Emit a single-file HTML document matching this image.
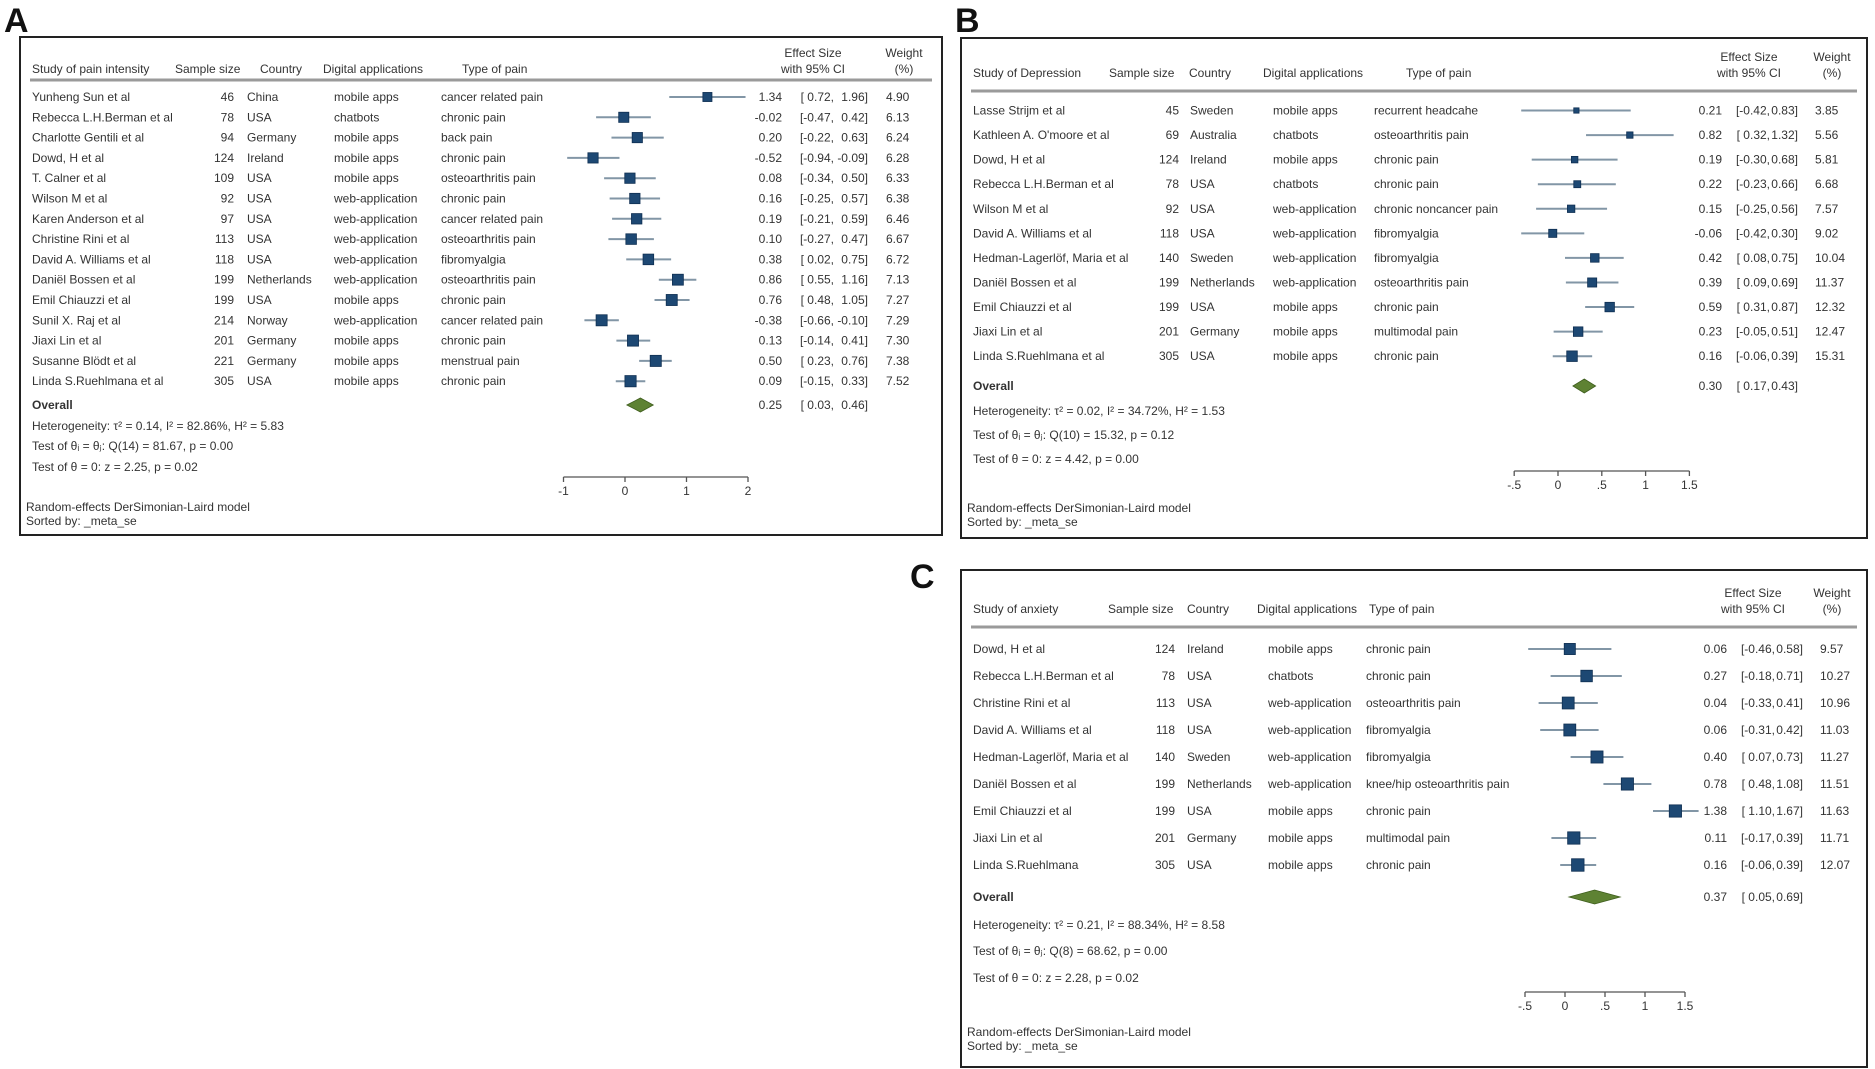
<!DOCTYPE html>
<html><head><meta charset="utf-8">
<style>
html,body{margin:0;padding:0;background:#fff;}
svg{display:block;font-family:"Liberation Sans",sans-serif;}
text{fill:#333;font-size:12px;}
</style></head>
<body>
<svg id="chart" width="1875" height="1069" viewBox="0 0 1875 1069" xmlns="http://www.w3.org/2000/svg">
<text x="4" y="32" style="font-size:34px;font-weight:bold;fill:#111">A</text>
<text x="955" y="32" style="font-size:34px;font-weight:bold;fill:#111">B</text>
<text x="910" y="588" style="font-size:34px;font-weight:bold;fill:#111">C</text>
</svg>
<script>
// ---------- Panel A: pain intensity ----------
const aNames = ["Yunheng Sun et al","Rebecca L.H.Berman et al","Charlotte Gentili et al","Dowd, H et al","T. Calner et al","Wilson M et al","Karen Anderson et al","Christine Rini et al","David A. Williams et al","Daniël Bossen et al","Emil Chiauzzi et al","Sunil X. Raj et al","Jiaxi Lin et al","Susanne Blödt et al","Linda S.Ruehlmana et al"];
const aSamples = [46,78,94,124,109,92,97,113,118,199,199,214,201,221,305];
const aCountries = ["China","USA","Germany","Ireland","USA","USA","USA","USA","USA","Netherlands","USA","Norway","Germany","Germany","USA"];
const aApps = ["mobile apps","chatbots","mobile apps","mobile apps","mobile apps","web-application","web-application","web-application","web-application","web-application","mobile apps","web-application","mobile apps","mobile apps","mobile apps"];
const aTypes = ["cancer related pain","chronic pain","back pain","chronic pain","osteoarthritis pain","chronic pain","cancer related pain","osteoarthritis pain","fibromyalgia","osteoarthritis pain","chronic pain","cancer related pain","chronic pain","menstrual pain","chronic pain"];
const aES = [1.34,-0.02,0.20,-0.52,0.08,0.16,0.19,0.10,0.38,0.86,0.76,-0.38,0.13,0.50,0.09];
const aLo = [0.72,-0.47,-0.22,-0.94,-0.34,-0.25,-0.21,-0.27,0.02,0.55,0.48,-0.66,-0.14,0.23,-0.15];
const aHi = [1.96,0.42,0.63,-0.09,0.50,0.57,0.59,0.47,0.75,1.16,1.05,-0.10,0.41,0.76,0.33];
const aWeights = [4.90,6.13,6.24,6.28,6.33,6.38,6.46,6.67,6.72,7.13,7.27,7.29,7.30,7.38,7.52];
const aOverall = [0.25,0.03,0.46];
const aTicks = [-1,0,1,2];
const aTickLabels = ["-1","0","1","2"];
const aStats = ["Heterogeneity: τ² = 0.14, I² = 82.86%, H² = 5.83","Test of θᵢ = θⱼ: Q(14) = 81.67, p = 0.00","Test of θ = 0: z = 2.25, p = 0.02"];

// ---------- Panel B: depression ----------
const bNames = ["Lasse Strijm et al","Kathleen A. O'moore et al","Dowd, H et al","Rebecca L.H.Berman et al","Wilson M et al","David A. Williams et al","Hedman-Lagerlöf, Maria et al","Daniël Bossen et al","Emil Chiauzzi et al","Jiaxi Lin et al","Linda S.Ruehlmana et al"];
const bSamples = [45,69,124,78,92,118,140,199,199,201,305];
const bCountries = ["Sweden","Australia","Ireland","USA","USA","USA","Sweden","Netherlands","USA","Germany","USA"];
const bApps = ["mobile apps","chatbots","mobile apps","chatbots","web-application","web-application","web-application","web-application","mobile apps","mobile apps","mobile apps"];
const bTypes = ["recurrent headcahe","osteoarthritis pain","chronic pain","chronic pain","chronic noncancer pain","fibromyalgia","fibromyalgia","osteoarthritis pain","chronic pain","multimodal pain","chronic pain"];
const bES = [0.21,0.82,0.19,0.22,0.15,-0.06,0.42,0.39,0.59,0.23,0.16];
const bLo = [-0.42,0.32,-0.30,-0.23,-0.25,-0.42,0.08,0.09,0.31,-0.05,-0.06];
const bHi = [0.83,1.32,0.68,0.66,0.56,0.30,0.75,0.69,0.87,0.51,0.39];
const bWeights = [3.85,5.56,5.81,6.68,7.57,9.02,10.04,11.37,12.32,12.47,15.31];
const bOverall = [0.30,0.17,0.43];
const bTicks = [-0.5,0,0.5,1,1.5];
const bTickLabels = ["-.5","0",".5","1","1.5"];
const bStats = ["Heterogeneity: τ² = 0.02, I² = 34.72%, H² = 1.53","Test of θᵢ = θⱼ: Q(10) = 15.32, p = 0.12","Test of θ = 0: z = 4.42, p = 0.00"];

// ---------- Panel C: anxiety ----------
const cNames = ["Dowd, H et al","Rebecca L.H.Berman et al","Christine Rini et al","David A. Williams et al","Hedman-Lagerlöf, Maria et al","Daniël Bossen et al","Emil Chiauzzi et al","Jiaxi Lin et al","Linda S.Ruehlmana"];
const cSamples = [124,78,113,118,140,199,199,201,305];
const cCountries = ["Ireland","USA","USA","USA","Sweden","Netherlands","USA","Germany","USA"];
const cApps = ["mobile apps","chatbots","web-application","web-application","web-application","web-application","mobile apps","mobile apps","mobile apps"];
const cTypes = ["chronic pain","chronic pain","osteoarthritis pain","fibromyalgia","fibromyalgia","knee/hip osteoarthritis pain","chronic pain","multimodal pain","chronic pain"];
const cES = [0.06,0.27,0.04,0.06,0.40,0.78,1.38,0.11,0.16];
const cLo = [-0.46,-0.18,-0.33,-0.31,0.07,0.48,1.10,-0.17,-0.06];
const cHi = [0.58,0.71,0.41,0.42,0.73,1.08,1.67,0.39,0.39];
const cWeights = [9.57,10.27,10.96,11.03,11.27,11.51,11.63,11.71,12.07];
const cOverall = [0.37,0.05,0.69];
const cTicks = [-0.5,0,0.5,1,1.5];
const cTickLabels = ["-.5","0",".5","1","1.5"];
const cStats = ["Heterogeneity: τ² = 0.21, I² = 88.34%, H² = 8.58","Test of θᵢ = θⱼ: Q(8) = 68.62, p = 0.00","Test of θ = 0: z = 2.28, p = 0.02"];

const svg = document.getElementById('chart');
const NS = 'http://www.w3.org/2000/svg';
function mk(tag, attrs, parent){
  const e = document.createElementNS(NS, tag);
  for (const k in attrs) e.setAttribute(k, attrs[k]);
  (parent||svg).appendChild(e);
  return e;
}
function txt(x,y,s,anchor,parent,extra){
  const t = mk('text',{x:x,y:y,'text-anchor':anchor||'start'},parent);
  if (extra) t.setAttribute('style',extra);
  t.textContent = s;
  return t;
}
function f2(v){ return v.toFixed(2); }
function pad(v){ return (v<0?'':' ')+f2(v); }

function panel(P){
  const g = mk('g',{});
  
  
  const box = mk('rect',{x:P.box[0],y:P.box[1],width:P.box[2]-P.box[0],height:P.box[3]-P.box[1],fill:'none',stroke:'#222','stroke-width':2},g);
  
  
  // header
  const hg = mk('g',{},g);
  
  
  const H = P.hdr;
  txt(H.study, H.y, P.title, 'start', hg);
  txt(H.sample, H.y, 'Sample size', 'start', hg);
  txt(H.country, H.y, 'Country', 'start', hg);
  txt(H.app, H.y, 'Digital applications', 'start', hg);
  txt(H.type, H.y, 'Type of pain', 'start', hg);
  txt(H.es, H.y-16, 'Effect Size', 'middle', hg);
  txt(H.es, H.y, 'with 95% CI', 'middle', hg);
  txt(H.w, H.y-16, 'Weight', 'middle', hg);
  txt(H.w, H.y, '(%)', 'middle', hg);
  mk('line',{x1:P.box[0]+10,x2:P.box[2]-10,y1:H.line,y2:H.line,stroke:'#9a9a9a','stroke-width':3},hg);
  const sx = v => P.x0 + v*P.unit;
  const C = P.col;
  for (let i=0;i<P.names.length;i++){
    const y = P.row0 + i*P.dy;
    const r = mk('g',{},g);
    
    
    txt(C.study, y+4, P.names[i], 'start', r);
    txt(C.sample, y+4, String(P.samples[i]), 'end', r);
    txt(C.country, y+4, P.countries[i], 'start', r);
    txt(C.app, y+4, P.apps[i], 'start', r);
    txt(C.type, y+4, P.types[i], 'start', r);
    const ci = mk('line',{x1:sx(P.lo[i]),x2:sx(P.hi[i]),y1:y,y2:y,stroke:'#8296a6','stroke-width':2},r);
    
    
    const s = Math.max(5, P.k*Math.sqrt(P.weights[i]));
    const sq = mk('rect',{x:sx(P.es[i])-s/2,y:y-s/2,width:s,height:s,fill:'#1d4873',stroke:'#0f2f52','stroke-width':0.8},r);
    
    
    txt(C.es1, y+4, f2(P.es[i]), 'end', r);
    txt(C.es2, y+4, '['+pad(P.lo[i])+',', 'end', r);
    txt(C.es3, y+4, pad(P.hi[i])+']', 'end', r);
    txt(C.w, y+4, f2(P.weights[i]), 'start', r);
  }
  // overall
  const og = mk('g',{},g);
  
  
  txt(C.study, P.ovY+4, 'Overall', 'start', og, 'font-weight:bold');
  const o = P.overall, hh = 7;
  const dm = mk('polygon',{points:`${sx(o[1])},${P.ovY} ${sx(o[0])},${P.ovY-hh} ${sx(o[2])},${P.ovY} ${sx(o[0])},${P.ovY+hh}`,fill:'#5e8233',stroke:'#3f5e1e','stroke-width':0.8},og);
  
  
  txt(C.es1, P.ovY+4, f2(o[0]), 'end', og);
  txt(C.es2, P.ovY+4, '['+pad(o[1])+',', 'end', og);
  txt(C.es3, P.ovY+4, pad(o[2])+']', 'end', og);
  for (let j=0;j<P.stats.length;j++){
    const st = txt(C.study, P.statY[j]+4, P.stats[j], 'start', g);
    
    
  }
  // axis
  const ag = mk('g',{},g);
  
  
  const t0 = P.ticks[0], t1 = P.ticks[P.ticks.length-1];
  mk('line',{x1:sx(t0),x2:sx(t1),y1:P.axY,y2:P.axY,stroke:'#555','stroke-width':1.3},ag);
  for (let j=0;j<P.ticks.length;j++){
    mk('line',{x1:sx(P.ticks[j]),x2:sx(P.ticks[j]),y1:P.axY,y2:P.axY+5,stroke:'#555','stroke-width':1.3},ag);
    const tl = txt(sx(P.ticks[j]), P.axY+18, P.tickLabels[j], 'middle', ag);
    
    
  }
  const fg = mk('g',{},g);
  
  
  txt(P.box[0]+6, P.footY, 'Random-effects DerSimonian-Laird model', 'start', fg);
  txt(P.box[0]+6, P.footY+14, 'Sorted by: _meta_se', 'start', fg);
}

panel({id:'panel-a', title:'Study of pain intensity', box:[20,37,942,535],
  hdr:{study:32,sample:175,country:260,app:323,type:462,es:813,w:904,y:73,line:80},
  col:{study:32,sample:234,country:247,app:334,type:441,es1:782,es2:834,es3:868,w:886},
  names:aNames,samples:aSamples,countries:aCountries,apps:aApps,types:aTypes,
  es:aES,lo:aLo,hi:aHi,weights:aWeights,overall:aOverall,ticks:aTicks,tickLabels:aTickLabels,stats:aStats,
  x0:625,unit:61.5,k:4.1,row0:97,dy:20.3,ovY:405,statY:[426,446,467],axY:477,footY:511});

panel({id:'panel-b', title:'Study of Depression', box:[961,38,1867,538],
  hdr:{study:973,sample:1109,country:1189,app:1263,type:1406,es:1749,w:1832,y:77,line:91},
  col:{study:973,sample:1179,country:1190,app:1273,type:1374,es1:1722,es2:1770,es3:1798,w:1815},
  names:bNames,samples:bSamples,countries:bCountries,apps:bApps,types:bTypes,
  es:bES,lo:bLo,hi:bHi,weights:bWeights,overall:bOverall,ticks:bTicks,tickLabels:bTickLabels,stats:bStats,
  x0:1558,unit:87.6,k:2.7,row0:110.5,dy:24.57,ovY:386,statY:[411,435,459],axY:471,footY:512});

panel({id:'panel-c', title:'Study of anxiety', box:[961,570,1867,1067],
  hdr:{study:973,sample:1108,country:1187,app:1257,type:1369,es:1753,w:1832,y:613,line:627},
  col:{study:973,sample:1175,country:1187,app:1268,type:1366,es1:1727,es2:1775,es3:1803,w:1820},
  names:cNames,samples:cSamples,countries:cCountries,apps:cApps,types:cTypes,
  es:cES,lo:cLo,hi:cHi,weights:cWeights,overall:cOverall,ticks:cTicks,tickLabels:cTickLabels,stats:cStats,
  x0:1565,unit:80,k:3.6,row0:649,dy:27,ovY:897,statY:[925,951,978],axY:992,footY:1036});
</script>
</body></html>
